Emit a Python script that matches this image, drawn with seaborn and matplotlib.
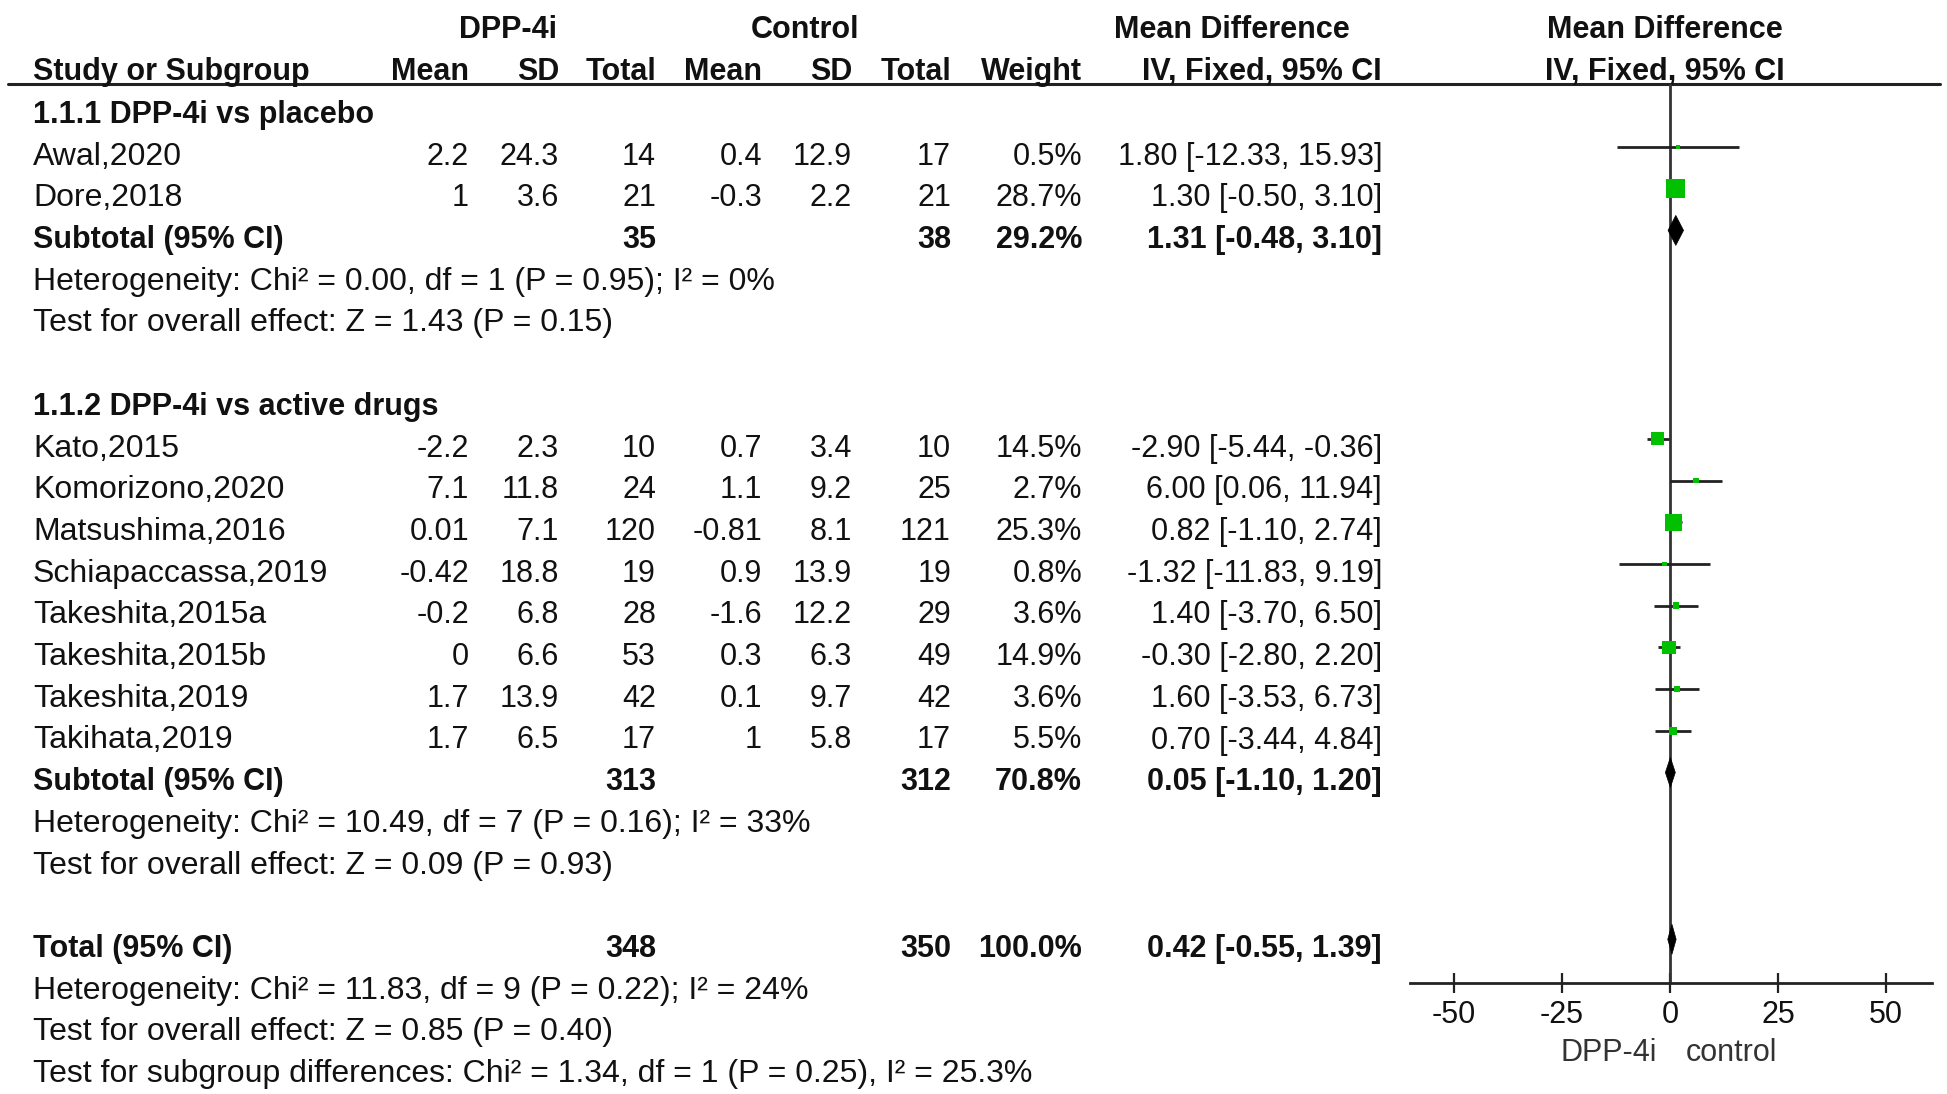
import matplotlib
matplotlib.use("Agg")
import matplotlib.pyplot as plt
import seaborn as sns
import numpy as np

# Individual studies
studies = ["Awal,2020", "Dore,2018", "Kato,2015", "Komorizono,2020", "Matsushima,2016",
           "Schiapaccassa,2019", "Takeshita,2015a", "Takeshita,2015b", "Takeshita,2019", "Takihata,2019"]
study_rows = [1, 2, 8, 9, 10, 11, 12, 13, 14, 15]
dpp_mean = [2.2, 1, -2.2, 7.1, 0.01, -0.42, -0.2, 0, 1.7, 1.7]
dpp_sd = [24.3, 3.6, 2.3, 11.8, 7.1, 18.8, 6.8, 6.6, 13.9, 6.5]
dpp_n = [14, 21, 10, 24, 120, 19, 28, 53, 42, 17]
ctl_mean = [0.4, -0.3, 0.7, 1.1, -0.81, 0.9, -1.6, 0.3, 0.1, 1]
ctl_sd = [12.9, 2.2, 3.4, 9.2, 8.1, 13.9, 12.2, 6.3, 9.7, 5.8]
ctl_n = [17, 21, 10, 25, 121, 19, 29, 49, 42, 17]
weight = [0.5, 28.7, 14.5, 2.7, 25.3, 0.8, 3.6, 14.9, 3.6, 5.5]
md = [1.80, 1.30, -2.90, 6.00, 0.82, -1.32, 1.40, -0.30, 1.60, 0.70]
ci_lo = [-12.33, -0.50, -5.44, 0.06, -1.10, -11.83, -3.70, -2.80, -3.53, -3.44]
ci_hi = [15.93, 3.10, -0.36, 11.94, 2.74, 9.19, 6.50, 2.20, 6.73, 4.84]

# Subtotals and total
pooled_labels = ["Subtotal (95% CI)", "Subtotal (95% CI)", "Total (95% CI)"]
pooled_rows = [3, 16, 20]
pooled_dpp_n = [35, 313, 348]
pooled_ctl_n = [38, 312, 350]
pooled_weight = [29.2, 70.8, 100.0]
pooled_md = [1.31, 0.05, 0.42]
pooled_lo = [-0.48, -1.10, -0.55]
pooled_hi = [3.10, 1.20, 1.39]

group_labels = ["1.1.1 DPP-4i vs placebo", "1.1.2 DPP-4i vs active drugs"]
group_rows = [0, 7]

stat_lines = ["Heterogeneity: Chi² = 0.00, df = 1 (P = 0.95); I² = 0%",
              "Test for overall effect: Z = 1.43 (P = 0.15)",
              "Heterogeneity: Chi² = 10.49, df = 7 (P = 0.16); I² = 33%",
              "Test for overall effect: Z = 0.09 (P = 0.93)",
              "Heterogeneity: Chi² = 11.83, df = 9 (P = 0.22); I² = 24%",
              "Test for overall effect: Z = 0.85 (P = 0.40)",
              "Test for subgroup differences: Chi² = 1.34, df = 1 (P = 0.25), I² = 25.3%"]
stat_rows = [4, 5, 17, 18, 21, 22, 23]

x_ticks = [-50, -25, 0, 25, 50]
favours = ["DPP-4i", "control"]

# layout (pixels)
W, H = 1947, 1094
FS = 22
FS_TXT = 23
INK = "#111111"
GREEN = "#00C000"


def mark_y(r):
    return 105.3 + 41.7 * r


def base_y(r):
    return mark_y(r) + 17.7


def fmt(v):
    return f"{v:g}"


sns.set_theme(style="white")
plt.rcParams["font.family"] = ["Liberation Sans", "DejaVu Sans"]

fig = plt.figure(figsize=(W / 100, H / 100), dpi=100)
ax = fig.add_axes([0, 0, 1, 1])
ax.set_xlim(0, W)
ax.set_ylim(H, 0)
ax.axis("off")


def put(x, y, s, ha="right", bold=False, size=FS):
    ax.text(x, y, s, ha=ha, va="baseline", fontsize=size, color=INK,
            fontweight="bold" if bold else "normal")


# column right edges
cols = [469, 559, 656, 762, 852, 951, 1082, 1382]

# header
put(508, 38, "DPP-4i", ha="center", bold=True)
put(805, 38, "Control", ha="center", bold=True)
put(1232, 38, "Mean Difference", ha="center", bold=True)
put(1665, 38, "Mean Difference", ha="center", bold=True)
put(33, 80, "Study or Subgroup", ha="left", bold=True)
for x, s in zip(cols, ["Mean", "SD", "Total", "Mean", "SD", "Total", "Weight", "IV, Fixed, 95% CI"]):
    put(x, 80, s, bold=True)
put(1665, 80, "IV, Fixed, 95% CI", ha="center", bold=True)
ax.plot([8, 1940], [84, 84], color="#222222", lw=2.2)

for lab, r in zip(group_labels, group_rows):
    put(33, base_y(r), lab, ha="left", bold=True)

for i, r in enumerate(study_rows):
    y = base_y(r)
    put(33, y, studies[i], ha="left", size=FS_TXT)
    vals = [fmt(dpp_mean[i]), fmt(dpp_sd[i]), str(dpp_n[i]),
            fmt(ctl_mean[i]), fmt(ctl_sd[i]), str(ctl_n[i]),
            f"{weight[i]:.1f}%", f"{md[i]:.2f} [{ci_lo[i]:.2f}, {ci_hi[i]:.2f}]"]
    for x, s in zip(cols, vals):
        put(x, y, s)

for i, r in enumerate(pooled_rows):
    y = base_y(r)
    put(33, y, pooled_labels[i], ha="left", bold=True)
    put(cols[2], y, str(pooled_dpp_n[i]), bold=True)
    put(cols[5], y, str(pooled_ctl_n[i]), bold=True)
    put(cols[6], y, f"{pooled_weight[i]:.1f}%", bold=True)
    put(cols[7], y, f"{pooled_md[i]:.2f} [{pooled_lo[i]:.2f}, {pooled_hi[i]:.2f}]", bold=True)

for s, r in zip(stat_lines, stat_rows):
    put(33, base_y(r), s, ha="left", size=FS_TXT)

# forest panel
fax = fig.add_axes([1410 / W, 1 - 983 / H, (1932 - 1410) / W, (983 - 84) / H])
fax.set_facecolor("none")
fax.set_xlim(-60.2, 60.6)
fax.set_ylim(983, 84)
fax.axvline(0, color="#333333", lw=2, zorder=1)

ys = [mark_y(r) for r in study_rows]
fax.hlines(ys, ci_lo, ci_hi, color="#222222", lw=2, zorder=2)
sizes = [max(6.2 * w, 9) for w in weight]
sns.scatterplot(x=md, y=ys, s=sizes, marker="s", color=GREEN, linewidth=0,
                ax=fax, zorder=3, legend=False)

for i, r in enumerate(pooled_rows):
    y = mark_y(r)
    fax.fill([pooled_lo[i], pooled_md[i], pooled_hi[i], pooled_md[i]],
             [y, y - 15, y, y + 15], color="black", lw=0.5, zorder=3)

for side in ["top", "left", "right"]:
    fax.spines[side].set_visible(False)
fax.spines["bottom"].set_color("#222222")
fax.spines["bottom"].set_linewidth(2)
fax.set_yticks([])
fax.set_xticks(x_ticks)
fax.set_xticklabels([str(t) for t in x_ticks])
fax.tick_params(axis="x", direction="inout", length=15, width=1.6, color="#222222",
                labelcolor=INK, labelsize=FS, pad=5, bottom=True)
fax.set_xlabel("")
fax.set_ylabel("")

ax.text(1657, 1061, favours[0], ha="right", va="baseline", fontsize=FS, color="#333333")
ax.text(1686, 1061, favours[1], ha="left", va="baseline", fontsize=FS, color="#333333")

fig.savefig("out.png", dpi=100)
